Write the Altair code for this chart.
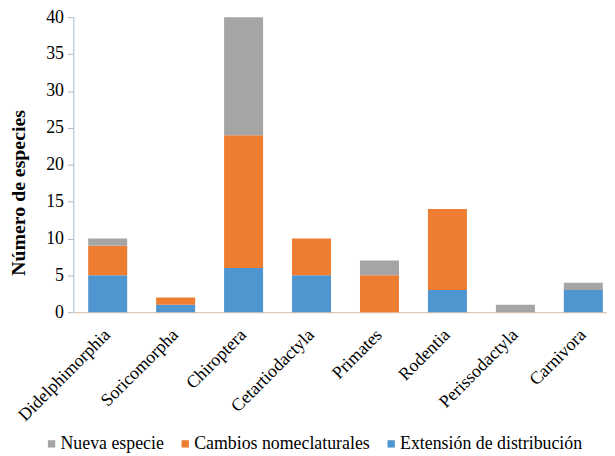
import altair as alt
import pandas as pd

orders = ["Didelphimorphia", "Soricomorpha", "Chiroptera", "Cetartiodactyla",
          "Primates", "Rodentia", "Perissodactyla", "Carnivora"]
extension = [5, 1, 6, 5, 0, 3, 0, 3]
cambios = [4, 1, 18, 5, 5, 11, 0, 0]
nueva = [1, 0, 16, 0, 2, 0, 1, 1]
series = ["Nueva especie", "Cambios nomeclaturales", "Extensión de distribución"]
colors = ["#A5A5A5", "#ED7D31", "#4F95D0"]
y_ticks = [0, 5, 10, 15, 20, 25, 30, 35, 40]

rows = []
for i, o in enumerate(orders):
    rows.append({"orden": o, "serie": series[2], "valor": extension[i], "k": 0})
    rows.append({"orden": o, "serie": series[1], "valor": cambios[i], "k": 1})
    rows.append({"orden": o, "serie": series[0], "valor": nueva[i], "k": 2})
df = pd.DataFrame(rows)

FONT = "'Liberation Serif', 'Times New Roman', Times, serif"

chart = alt.Chart(df).mark_bar().encode(
    x=alt.X("orden:N", sort=orders,
            scale=alt.Scale(paddingInner=0.426, paddingOuter=0.14, align=0.78),
            axis=alt.Axis(title=None, labelAngle=-45, labelFontSize=18, labelFont=FONT,
                          labelColor="#000000", ticks=False, labelPadding=20,
                          labelLimit=300,
                          domainColor="#d9b9a0", labelAlign="right", labelBaseline="middle")),
    y=alt.Y("valor:Q", stack="zero",
            scale=alt.Scale(domain=[0, 40], nice=False),
            axis=alt.Axis(title="Número de especies", values=y_ticks, grid=False,
                          labelFontSize=18, labelFont=FONT, labelColor="#000000",
                          titleFont=FONT, titleFontSize=20, titleFontWeight="bold",
                          titleColor="#000000", titleX=-45, titleY=177,
                          domainColor="#a9bccf", tickColor="#a9bccf", tickSize=6,
                          labelPadding=4)),
    color=alt.Color("serie:N", sort=series,
                    scale=alt.Scale(domain=series, range=colors),
                    legend=alt.Legend(title=None, orient="none", direction="horizontal",
                                      legendX=-31, legendY=422, symbolType="square",
                                      symbolSize=55, symbolStrokeWidth=0,
                                      labelFont=FONT, labelFontSize=18, labelLimit=300,
                                      labelColor="#000000", columnPadding=12,
                                      labelOffset=0)),
    order=alt.Order("k:Q", sort="ascending"),
).properties(
    width=539, height=298,
    autosize=alt.AutoSizeParams(type="none"),
    padding={"left": 66, "top": 7, "right": 0, "bottom": 143},
).configure(font=FONT).configure_view(stroke=None)

chart.save("out.html", embed_options={"renderer": "svg", "actions": False})
